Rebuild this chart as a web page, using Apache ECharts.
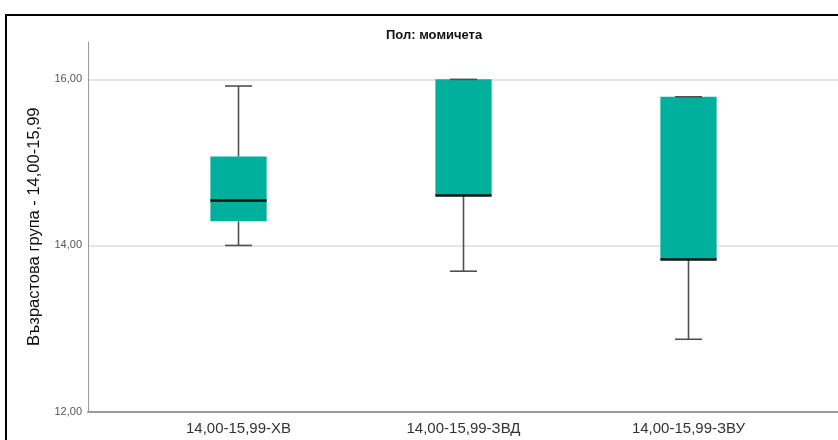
<!DOCTYPE html>
<html>
<head>
<meta charset="utf-8">
<style>
  html, body { margin: 0; padding: 0; background: #fff; }
  #chart { width: 838px; height: 440px; }
</style>
<script src="https://cdn.jsdelivr.net/npm/echarts@6/dist/echarts.min.js"></script>
</head>
<body>
<div id="chart"></div>
<script>
// Box plot summary per age group (girls)
const categories = ['14,00-15,99-ХВ', '14,00-15,99-ЗВД', '14,00-15,99-ЗВУ'];
const whiskerLow = [14.00, 13.69, 12.87];
const quartile1  = [14.29, 14.60, 13.83];
const medians    = [14.54, 14.60, 13.83];
const quartile3  = [15.07, 16.00, 15.79];
const whiskerHigh = [15.92, 16.00, 15.79];
const yTicks = [12, 14, 16];

const titleText = 'Пол: момичета';
const yAxisTitle = 'Възрастова група - 14,00-15,99';

const FONT = '"Liberation Sans", Arial, sans-serif';
const BOX_COLOR = '#00b09c';
const WHISKER_COLOR = '#505050';

const rows = categories.map((c, i) => [i, whiskerLow[i], quartile1[i], medians[i], quartile3[i], whiskerHigh[i]]);

function renderBox(params, api) {
  const idx = api.value(0);
  const band = api.size([1, 0])[0];
  const cx = api.coord([idx, api.value(1)])[0];
  const y = (dim) => api.coord([idx, api.value(dim)])[1];
  const yLo = y(1), yQ1 = y(2), yMed = y(3), yQ3 = y(4), yHi = y(5);
  const boxW = band * 0.25;
  const capW = band * 0.12;
  const line = (x1, y1, x2, y2, stroke, lw) => ({
    type: 'line',
    shape: { x1, y1, x2, y2 },
    style: { stroke, lineWidth: lw }
  });
  return {
    type: 'group',
    children: [
      line(cx, yHi, cx, yQ3, WHISKER_COLOR, 1.6),
      line(cx, yQ1, cx, yLo, WHISKER_COLOR, 1.6),
      {
        type: 'rect',
        shape: { x: cx - boxW / 2, y: yQ3, width: boxW, height: yQ1 - yQ3 },
        style: { fill: BOX_COLOR }
      },
      line(cx - capW / 2, yHi, cx + capW / 2, yHi, WHISKER_COLOR, 1.6),
      line(cx - capW / 2, yLo, cx + capW / 2, yLo, WHISKER_COLOR, 1.6),
      line(cx - boxW / 2, yMed, cx + boxW / 2, yMed, '#111111', 2.5)
    ]
  };
}

const fmt = (v) => yTicks.includes(v) ? v.toFixed(2).replace('.', ',') : '';

const chart = echarts.init(document.getElementById('chart'), null, { renderer: 'canvas' });
chart.setOption({
  animation: false,
  backgroundColor: '#ffffff',
  textStyle: { fontFamily: FONT },
  title: {
    text: titleText,
    left: 381,
    top: 24,
    textStyle: {
      fontFamily: '"Liberation Sans Narrow", "Liberation Sans", Arial, sans-serif',
      fontWeight: 'bold',
      fontSize: 13,
      color: '#111'
    }
  },
  graphic: [{
    type: 'rect',
    shape: { x: 6, y: 15, width: 900, height: 500 },
    style: { fill: 'none', stroke: '#000', lineWidth: 2 },
    z: 100
  }],
  grid: [
    { left: 88, top: 42, width: 751, bottom: 28.5 },
    { left: 126, top: 42, width: 675, bottom: 28.5 }
  ],
  xAxis: [
    {
      gridIndex: 0, type: 'value', min: 0, max: 1,
      axisLine: { show: true, onZero: false, lineStyle: { color: '#9a9a9a', width: 2 } },
      axisTick: { show: false }, axisLabel: { show: false }, splitLine: { show: false }
    },
    {
      gridIndex: 1, type: 'category', data: categories,
      axisLine: { show: false }, axisTick: { show: false },
      axisLabel: { fontFamily: FONT, fontSize: 15, color: '#333', margin: 10 }
    }
  ],
  yAxis: [
    {
      gridIndex: 0, type: 'value', min: 12, max: 16.45, interval: 2,
      name: yAxisTitle,
      nameLocation: 'middle',
      nameGap: 45,
      nameTextStyle: { fontFamily: FONT, fontSize: 16.5, color: '#111' },
      axisLine: { show: true, lineStyle: { color: '#9a9a9a', width: 1 } },
      axisTick: { show: false },
      axisLabel: { formatter: fmt, fontFamily: FONT, fontSize: 11, color: '#555', margin: 6, showMaxLabel: false, padding: [3, 0, 0, 0] },
      splitLine: { show: true, showMinLine: false, showMaxLine: false, lineStyle: { color: '#dddddd', width: 1.5 } }
    },
    {
      gridIndex: 1, type: 'value', min: 12, max: 16.45, show: false, splitLine: { show: false }
    }
  ],
  series: [{
    type: 'custom',
    xAxisIndex: 1,
    yAxisIndex: 1,
    renderItem: renderBox,
    encode: { x: 0, y: [1, 2, 3, 4, 5] },
    data: rows,
    z: 5
  }]
});
</script>
</body>
</html>
